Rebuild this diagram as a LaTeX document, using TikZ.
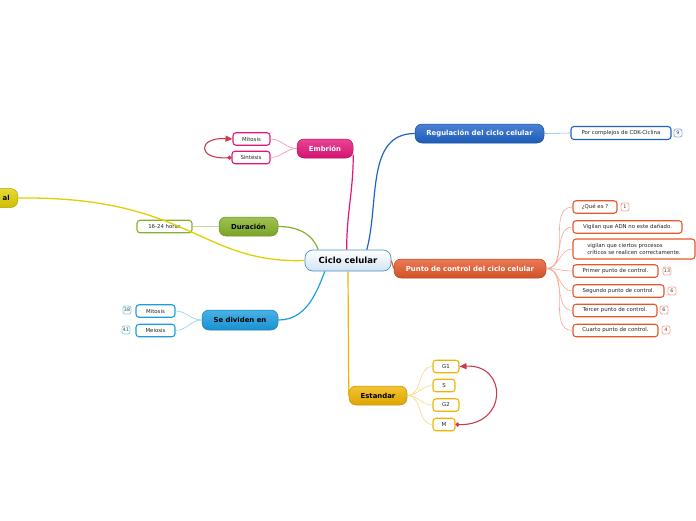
\documentclass[tikz,border=0pt]{standalone}
\usepackage{fontspec}
\setmainfont{DejaVu Sans}
\usetikzlibrary{arrows.meta}

\definecolor{centerc}{HTML}{4A90C8}
\definecolor{pinkc}{HTML}{E4157A}
\definecolor{greenc}{HTML}{86B22A}
\definecolor{yellowc}{HTML}{E0D000}
\definecolor{cyanc}{HTML}{1A9EE0}
\definecolor{bluec}{HTML}{1E63C8}
\definecolor{orangec}{HTML}{E4582A}
\definecolor{goldc}{HTML}{F0B400}
\definecolor{relc}{HTML}{C83A4C}

\begin{document}
\begin{tikzpicture}[x=1pt,y=1pt]
    \tikzset{topic/.style = {rounded corners=7pt, minimum height=19pt, inner sep=1pt, line width=0.5pt,
        draw=#1!80!black, top color=#1!80!white, bottom color=#1!92!black,
        font=\fontsize{6.9}{8}\selectfont\bfseries, text=white}}
    \tikzset{leaf/.style = {draw=#1, line width=1.1pt, fill=white, rounded corners=3pt, minimum height=12.5pt,
        inner sep=1pt, font=\fontsize{5.4}{6.6}\selectfont, text=black!85}}
    \tikzset{badge/.style = {draw=#1!50!white, line width=0.8pt, fill=white, rounded corners=2pt,
        minimum width=8pt, minimum height=8pt, inner sep=0.8pt, font=\fontsize{4.8}{5}\selectfont, text=black!75}}
    \tikzset{branch/.style = {draw=#1, line width=1.2pt}}
    \tikzset{twig/.style = {draw=#1!50!white, line width=0.6pt}}
    \tikzset{rel/.style = {draw=relc, line width=1.1pt, {Circle[length=4pt]}-{Triangle[length=7pt,width=6pt]}}}
    \useasboundingbox (0,0) rectangle (696,-520);

    \node[rounded corners=8pt, minimum width=86pt, minimum height=21pt, inner sep=1pt, line width=0.7pt,
        draw=centerc, top color=white, bottom color=centerc!25!white,
        font=\fontsize{8.5}{10}\selectfont\bfseries] (c) at (348,-260.5) {Ciclo celular};

    \node[topic=pinkc, minimum width=56pt] (emb) at (325,-148.5) {Embrión};
    \node[leaf=pinkc, minimum width=37pt] (emit) at (251.5,-139) {Mitosis};
    \node[leaf=pinkc, minimum width=38pt] (esin) at (251,-157.5) {Síntesis};

    \node[topic=greenc, minimum width=59pt, text=black] (dur) at (248.5,-226.5) {Duración};
    \node[leaf=greenc, minimum width=55pt] (hrs) at (164.5,-226.5) {16-24 horas};

    \node[topic=yellowc, text width=30pt, align=right, inner xsep=8pt, text=black, anchor=east] (al) at (18,-198) {al};

    \node[topic=cyanc, minimum width=76pt, minimum height=20pt, text=black] (sde) at (240,-320) {Se dividen en};
    \node[leaf=cyanc, minimum width=39pt] (smit) at (155.5,-311) {Mitosis};
    \node[leaf=cyanc, minimum width=39pt] (smei) at (155.5,-330.5) {Meiosis};
    \node[badge=cyanc] (b38) at (127,-310) {38};
    \node[badge=cyanc] (b41) at (126,-330) {41};

    \node[topic=bluec, minimum width=129pt] (reg) at (479.5,-133.5) {Regulación del ciclo celular};
    \node[leaf=bluec, minimum width=100pt, minimum height=13pt] (cdk) at (621,-133) {Por complejos de CDK-Ciclina};
    \node[badge=bluec] (b9) at (678,-133) {9};

    \node[topic=orangec, minimum width=152pt] (pto) at (470,-268.5) {Punto de control del ciclo celular};
    \node[leaf=orangec, minimum width=44pt] (q1) at (595,-207) {¿Qué es ?};
    \node[badge=orangec] (b1) at (625,-207) {1};
    \node[leaf=orangec, minimum width=109pt] (q2) at (627.5,-227) {Vigilan que ADN no este dañado.};
    \node[leaf=orangec, minimum width=122pt, minimum height=20pt, align=left] (q3) at (634,-249)
        {vigilan que ciertos procesos\\críticos se realicen correctamente.};
    \node[leaf=orangec, minimum width=85pt] (q4) at (615.5,-271) {Primer punto de control.};
    \node[badge=orangec] (b13) at (667,-271) {13};
    \node[leaf=orangec, minimum width=91pt] (q5) at (618.5,-291) {Segundo punto de control.};
    \node[badge=orangec] (b6a) at (672,-291) {6};
    \node[leaf=orangec, minimum width=84pt] (q6) at (615,-310.5) {Tercer punto de control.};
    \node[badge=orangec] (b6b) at (664,-310) {6};
    \node[leaf=orangec, minimum width=85pt] (q7) at (615.5,-330.5) {Cuarto punto de control.};
    \node[badge=orangec] (b4) at (666,-330) {4};

    \node[topic=goldc, minimum width=58pt, text=black] (est) at (378,-395.5) {Estandar};
    \node[leaf=goldc, minimum width=26pt] (g1) at (446,-366.5) {G1};
    \node[leaf=goldc, minimum width=22pt] (s) at (444,-385.5) {S};
    \node[leaf=goldc, minimum width=26pt] (g2) at (446,-405) {G2};
    \node[leaf=goldc, minimum width=22pt] (m) at (444,-424.5) {M};

    \draw[branch=yellowc, line width=1.3pt] (al.east) .. controls (190,-196) and (200,-264) .. (c.west);
    \draw[branch=pinkc] (c.97) to[out=90,in=-90] (emb.-12);
    \draw[branch=greenc] (c.160) to[out=110,in=0] (dur.east);
    \draw[branch=cyanc] (c.-155) to[out=-110,in=0] (sde.east);
    \draw[branch=bluec] (c.30) to[out=75,in=180] (reg.west);
    \draw[branch=orangec] (c.east) -- (pto.west);
    \draw[branch=goldc] (c.south) -- (est.west);

    \foreach \n in {emit,esin} \draw[twig=pinkc] (emb.west) to[out=180,in=0] (\n.east);
    \draw[twig=greenc] (dur.west) -- (hrs.east);
    \foreach \n in {smit,smei} \draw[twig=cyanc] (sde.west) to[out=180,in=0] (\n.east);
    \draw[twig=bluec] (reg.east) -- (cdk.west);
    \foreach \n in {q1,q2,q3,q4,q5,q6,q7} \draw[twig=orangec] (pto.east) to[out=0,in=180] (\n.west);
    \foreach \n in {g1,s,g2,m} \draw[twig=goldc] (est.east) to[out=0,in=180] (\n.west);

    \draw[rel] (esin.west) .. controls (197,-160) and (197,-137) .. (emit.west);
    \draw[rel] (m.east) .. controls (508,-426) and (508,-364) .. (g1.east);
\end{tikzpicture}
\end{document}
